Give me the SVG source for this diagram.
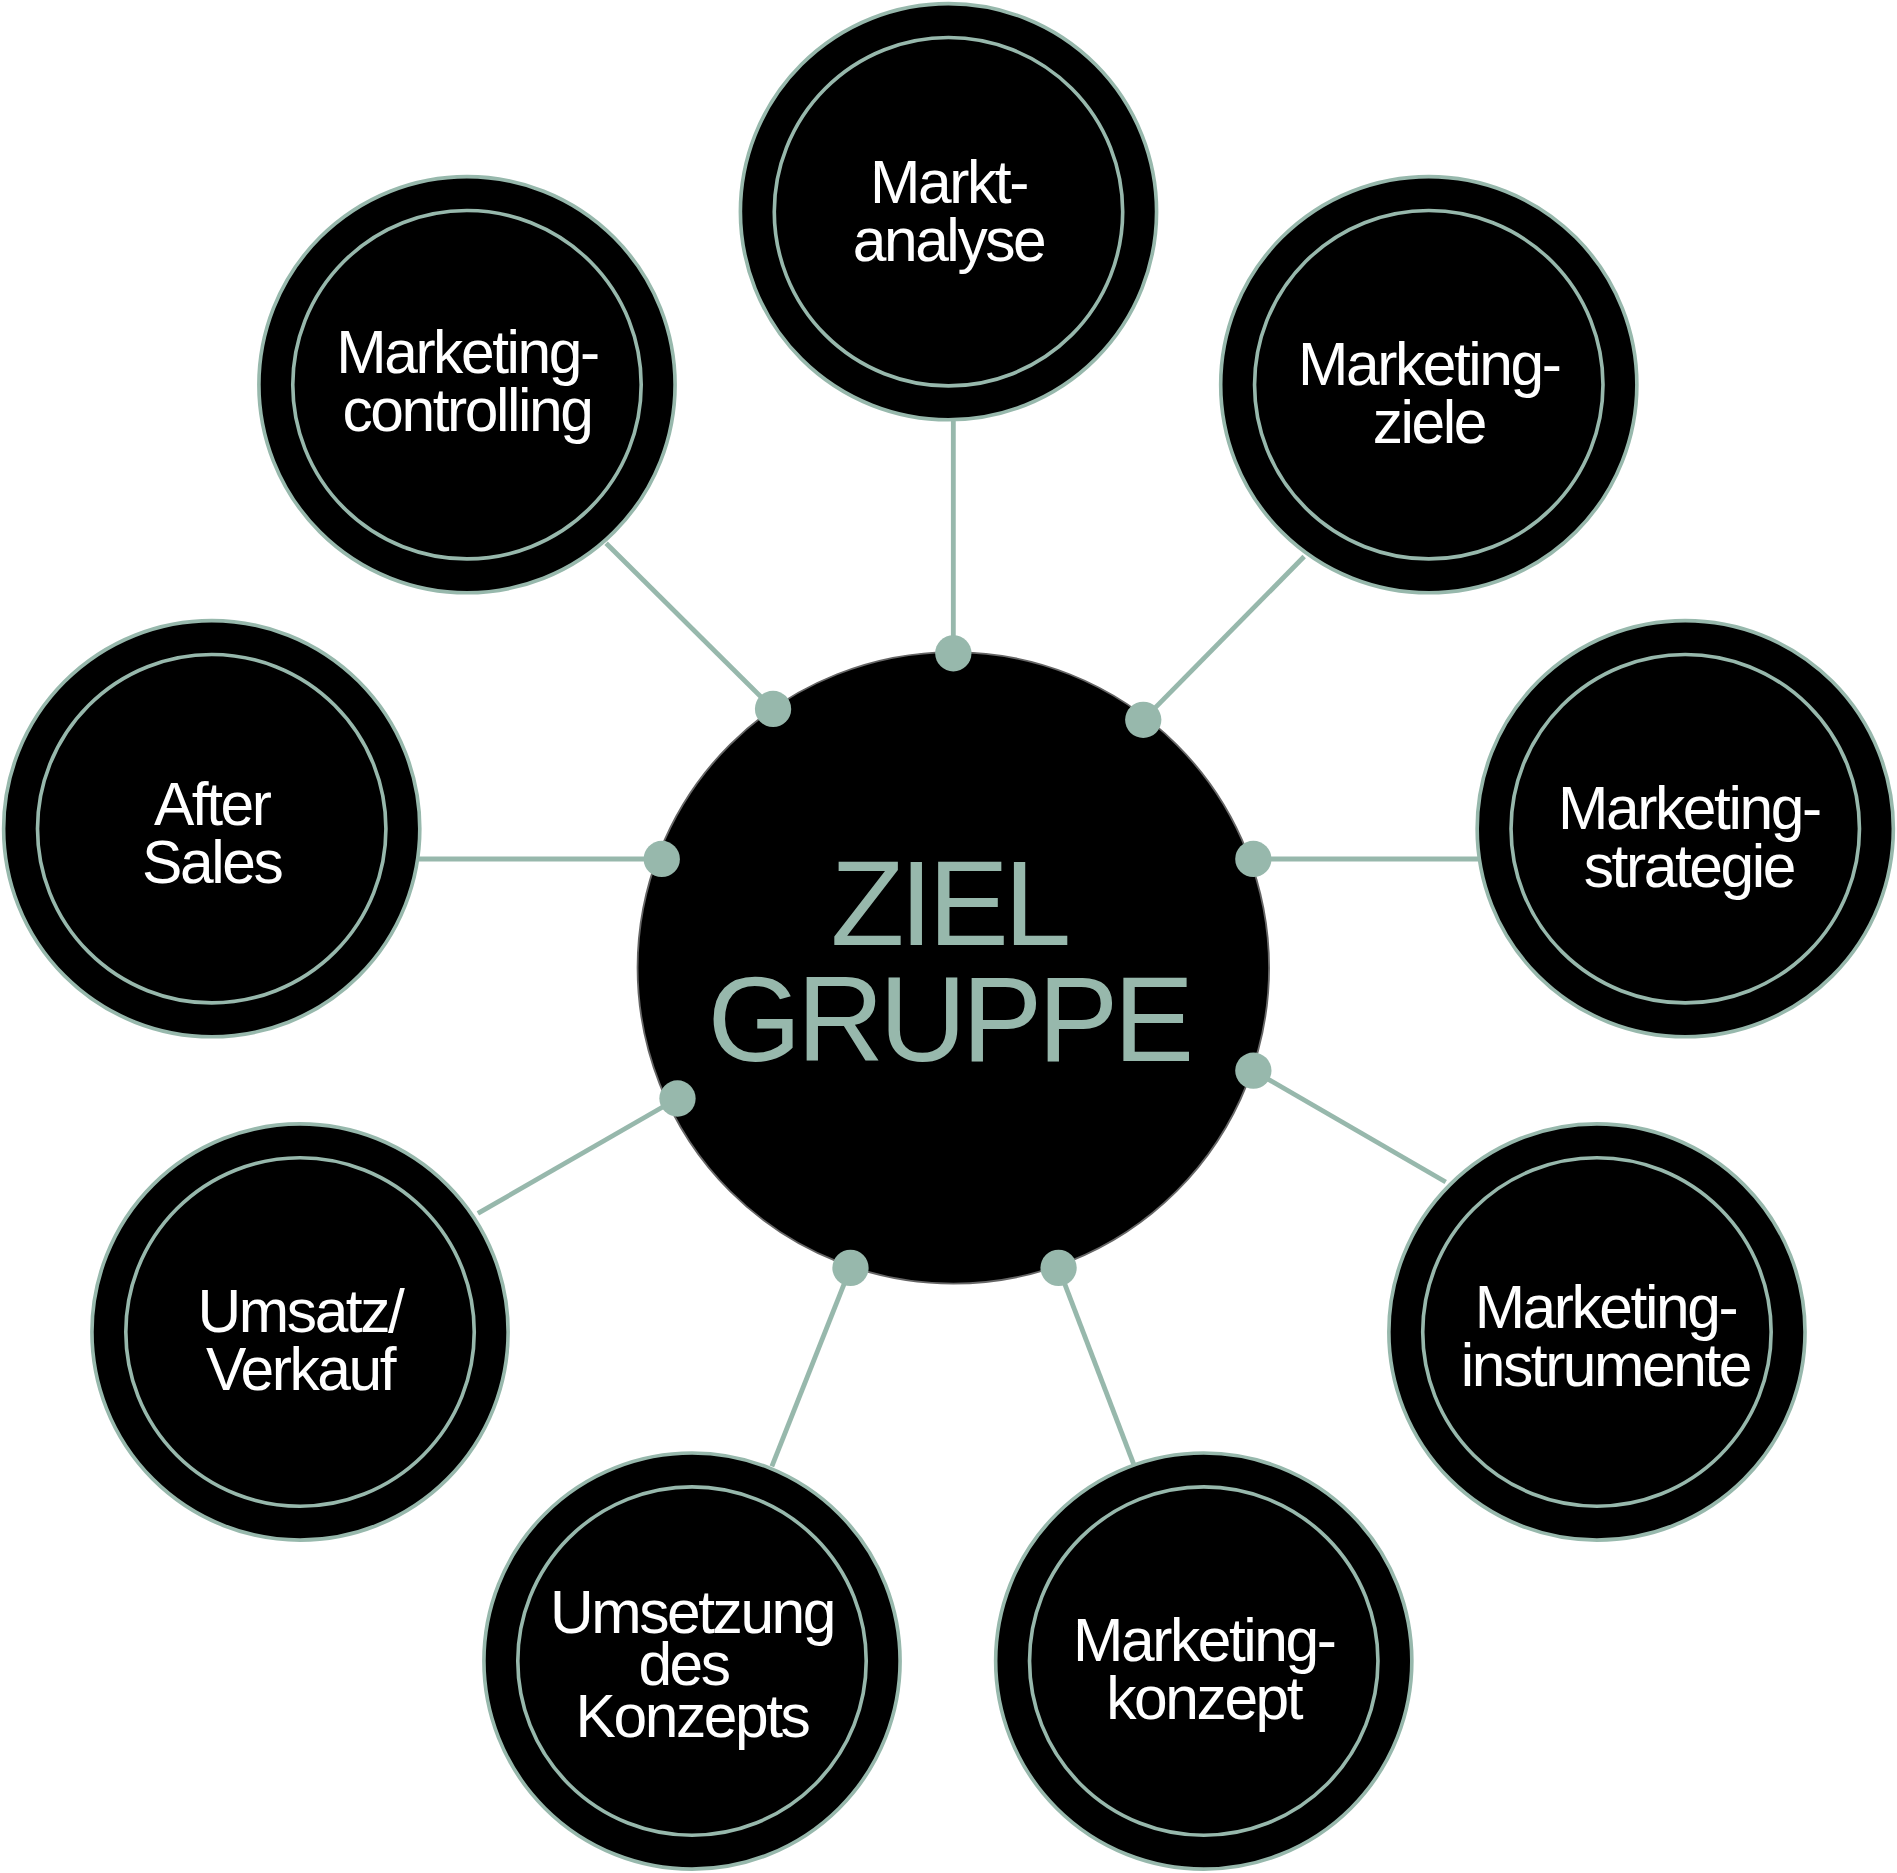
<svg xmlns="http://www.w3.org/2000/svg" width="1897" height="1873" viewBox="0 0 1897 1873">
<style>
.o{fill:#000;stroke:#97b8ac;stroke-width:3}
.i{fill:none;stroke:#97b8ac;stroke-width:3}
.t{fill:#fff;font-family:"Liberation Sans",Arial,sans-serif;font-size:50px;text-anchor:middle;letter-spacing:-2px}
.c{fill:#97b8ac;font-family:"Liberation Sans",Arial,sans-serif;font-size:100px;text-anchor:middle;letter-spacing:-4px}
.l{stroke:#97b8ac;stroke-width:4;fill:none}
.d{fill:#97b8ac}
</style>
<rect width="1897" height="1873" fill="#fff"/>
<g transform="scale(1.2098)">
<g id="connectors">
<line class="l" x1="788" y1="348" x2="788" y2="540"/>
<line class="l" x1="1078" y1="460" x2="945" y2="595"/>
<line class="l" x1="1222" y1="710" x2="1036" y2="710"/>
<line class="l" x1="1195" y1="977" x2="1036" y2="885"/>
<line class="l" x1="937" y1="1210" x2="875" y2="1048"/>
<line class="l" x1="638" y1="1212" x2="703" y2="1048"/>
<line class="l" x1="395" y1="1003" x2="560" y2="908"/>
<line class="l" x1="345" y1="710" x2="547" y2="710"/>
<line class="l" x1="501" y1="449" x2="639" y2="586"/>
</g>
<g id="center">
<circle cx="788" cy="800" r="261" fill="#000" stroke="#666" stroke-width="1.5"/>
<text class="c" x="784" y="781">ZIEL</text>
<text class="c" x="784" y="877">GRUPPE</text>
</g>
<g id="dots">
<circle class="d" cx="788" cy="540" r="15"/>
<circle class="d" cx="945" cy="595" r="15"/>
<circle class="d" cx="1036" cy="710" r="15"/>
<circle class="d" cx="1036" cy="885" r="15"/>
<circle class="d" cx="875" cy="1048" r="15"/>
<circle class="d" cx="703" cy="1048" r="15"/>
<circle class="d" cx="560" cy="908" r="15"/>
<circle class="d" cx="547" cy="710" r="15"/>
<circle class="d" cx="639" cy="586" r="15"/>
</g>
<g id="n1"><circle class="o" cx="784" cy="175" r="172"/><circle class="i" cx="784" cy="175" r="144"/><text class="t" x="784" y="168">Markt-</text><text class="t" x="784" y="216">analyse</text></g>
<g id="n2"><circle class="o" cx="1181" cy="318" r="172"/><circle class="i" cx="1181" cy="318" r="144"/><text class="t" x="1181" y="318">Marketing-</text><text class="t" x="1181" y="366">ziele</text></g>
<g id="n3"><circle class="o" cx="1393" cy="685" r="172"/><circle class="i" cx="1393" cy="685" r="144"/><text class="t" x="1396" y="685">Marketing-</text><text class="t" x="1396" y="733">strategie</text></g>
<g id="n4"><circle class="o" cx="1320" cy="1101" r="172"/><circle class="i" cx="1320" cy="1101" r="144"/><text class="t" x="1327" y="1098">Marketing-</text><text class="t" x="1327" y="1146">instrumente</text></g>
<g id="n5"><circle class="o" cx="995" cy="1373" r="172"/><circle class="i" cx="995" cy="1373" r="144"/><text class="t" x="995" y="1373">Marketing-</text><text class="t" x="995" y="1421">konzept</text></g>
<g id="n6"><circle class="o" cx="572" cy="1373" r="172"/><circle class="i" cx="572" cy="1373" r="144"/><text class="t" x="572" y="1350">Umsetzung</text><text class="t" x="565" y="1393">des</text><text class="t" x="572" y="1436">Konzepts</text></g>
<g id="n7"><circle class="o" cx="248" cy="1101" r="172"/><circle class="i" cx="248" cy="1101" r="144"/><text class="t" x="248" y="1101">Umsatz/</text><text class="t" x="248" y="1149">Verkauf</text></g>
<g id="n8"><circle class="o" cx="175" cy="685" r="172"/><circle class="i" cx="175" cy="685" r="144"/><text class="t" x="175" y="682">After</text><text class="t" x="175" y="730">Sales</text></g>
<g id="n9"><circle class="o" cx="386" cy="318" r="172"/><circle class="i" cx="386" cy="318" r="144"/><text class="t" x="386" y="308">Marketing-</text><text class="t" x="386" y="356">controlling</text></g>
</g>
</svg>
